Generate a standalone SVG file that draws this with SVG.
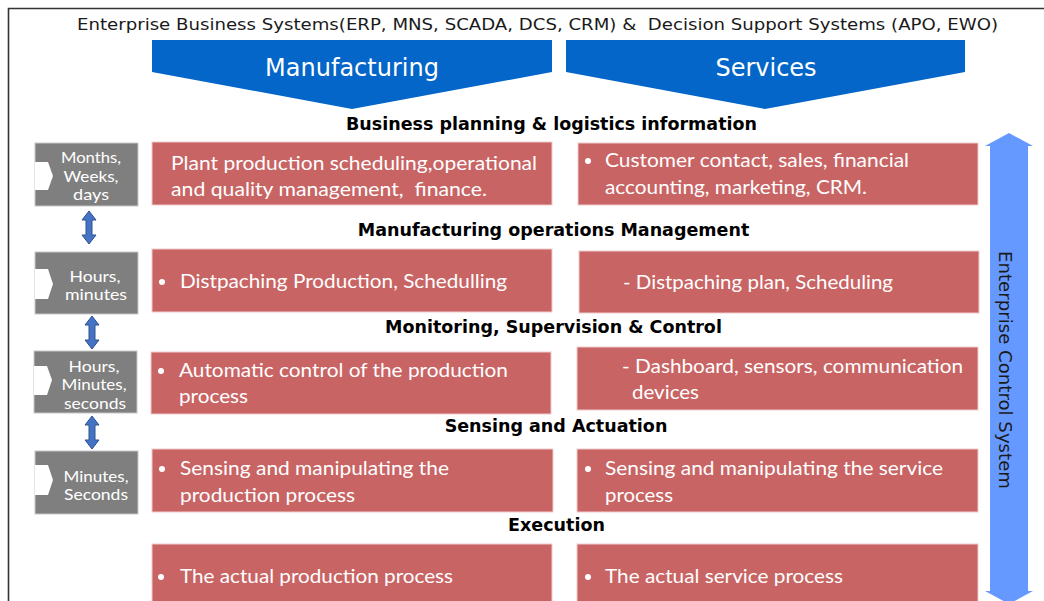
<svg xmlns="http://www.w3.org/2000/svg" width="1044" height="601" viewBox="0 0 1044 601">
<style>
.title{font-family:"DejaVu Sans","Liberation Sans",sans-serif;font-size:16px;fill:#1a1a1a}
.chev{fill:#0466c8}
.chevt{font-family:"DejaVu Sans","Liberation Sans",sans-serif;font-size:24px;fill:#ffffff;text-anchor:middle}
.head{font-family:"DejaVu Sans","Liberation Sans",sans-serif;font-weight:bold;font-size:17.5px;fill:#000;text-anchor:middle}
.gray{fill:#7f7f7f;stroke:#c8c8c8;stroke-width:1}
.notch{fill:#ffffff}
.gt{font-family:Lato,"Open Sans",sans-serif;font-size:15px;fill:#ffffff;text-anchor:middle}
.red{fill:#c96464;stroke:#f0caca;stroke-width:1}
.rt{font-family:Lato,"Open Sans",sans-serif;font-size:20px;fill:#ffffff}
.dot{fill:#ffffff}
.sarrow{fill:#4472c4;stroke:#2f528f;stroke-width:1}
.barrow{fill:#6699ff}
.vt{font-family:"DejaVu Sans","Liberation Sans",sans-serif;font-size:17.5px;fill:#1a1a1a;text-anchor:middle}
</style>
<rect x="0" y="0" width="1044" height="601" fill="#ffffff"/>
<path d="M8.5,601 L8.5,8.5 L1044,8.5" fill="none" stroke="#333333" stroke-width="1.6"/>

<text class="title" x="77" y="30" textLength="921" lengthAdjust="spacingAndGlyphs" xml:space="preserve">Enterprise Business Systems(ERP, MNS, SCADA, DCS, CRM) &amp;  Decision Support Systems (APO, EWO)</text>

<g id="manufacturing">
<polygon class="chev" points="152,40 552,40 552,72 352,109 152,72"/>
<text class="chevt" x="352" y="76">Manufacturing</text>
</g>
<g id="services">
<polygon class="chev" points="566,40 965,40 965,72 765,109 566,72"/>
<text class="chevt" x="766" y="76">Services</text>
</g>

<g id="headings">
<text class="head" x="551.5" y="130">Business planning &amp; logistics information</text>
<text class="head" x="553.5" y="236">Manufacturing operations Management</text>
<text class="head" x="553.5" y="333">Monitoring, Supervision &amp; Control</text>
<text class="head" x="556" y="432">Sensing and Actuation</text>
<text class="head" x="556.5" y="531">Execution</text>
</g>

<g id="time1">
<rect class="gray" x="35" y="143" width="103" height="63"/>
<polygon class="notch" points="35,162 48,162 53,176 48,190 35,190"/>
<text class="gt" x="91" y="163" textLength="60" lengthAdjust="spacingAndGlyphs">Months,</text>
<text class="gt" x="91" y="181.5" textLength="55" lengthAdjust="spacingAndGlyphs">Weeks,</text>
<text class="gt" x="91" y="200" textLength="36" lengthAdjust="spacingAndGlyphs">days</text>
</g>
<g id="time2">
<rect class="gray" x="35" y="252" width="103" height="62"/>
<polygon class="notch" points="35,269 48,269 53,284 48,299 35,299"/>
<text class="gt" x="95" y="281.5" textLength="51" lengthAdjust="spacingAndGlyphs">Hours,</text>
<text class="gt" x="96" y="300" textLength="62" lengthAdjust="spacingAndGlyphs">minutes</text>
</g>
<g id="time3">
<rect class="gray" x="34" y="351" width="103" height="62"/>
<polygon class="notch" points="34,366 47,366 52,380 47,395 34,395"/>
<text class="gt" x="94" y="371.5" textLength="51" lengthAdjust="spacingAndGlyphs">Hours,</text>
<text class="gt" x="94" y="390" textLength="65" lengthAdjust="spacingAndGlyphs">Minutes,</text>
<text class="gt" x="95" y="408.5" textLength="62" lengthAdjust="spacingAndGlyphs">seconds</text>
</g>
<g id="time4">
<rect class="gray" x="35" y="451" width="103" height="63"/>
<polygon class="notch" points="35,465 48,465 53,480 48,495 35,495"/>
<text class="gt" x="96" y="481.5" textLength="65" lengthAdjust="spacingAndGlyphs">Minutes,</text>
<text class="gt" x="96" y="500" textLength="64" lengthAdjust="spacingAndGlyphs">Seconds</text>
</g>

<g id="connectors">
<path class="sarrow" d="M89,211 L96,220 L92,220 L92,235 L96,235 L89,244 L82,235 L86,235 L86,220 L82,220 Z"/>
<path class="sarrow" d="M92,316 L99,325 L95,325 L95,340 L99,340 L92,349 L85,340 L89,340 L89,325 L85,325 Z"/>
<path class="sarrow" d="M92,416 L99,425 L95,425 L95,440 L99,440 L92,449 L85,440 L89,440 L89,425 L85,425 Z"/>
<path class="barrow" d="M1009,133 L1033,146 L1028,146 L1028,591 L1033,591 L1009,604 L985,591 L990,591 L990,146 L985,146 Z"/>
</g>

<g id="ecs-label">
<text class="vt" transform="translate(999,370) rotate(90)" textLength="238" lengthAdjust="spacingAndGlyphs">Enterprise Control System</text>
</g>

<g id="m-planning">
<rect class="red" x="152" y="142" width="400" height="63"/>
<text class="rt" x="171" y="170" textLength="366" lengthAdjust="spacingAndGlyphs">Plant production scheduling,operational</text>
<text class="rt" x="171" y="196" textLength="316" lengthAdjust="spacingAndGlyphs" xml:space="preserve">and quality management,  finance.</text>
</g>
<g id="m-operations">
<rect class="red" x="152" y="249" width="400" height="63"/>
<circle class="dot" cx="162" cy="282" r="3"/>
<text class="rt" x="180" y="288" textLength="327" lengthAdjust="spacingAndGlyphs">Distpaching Production, Schedulling</text>
</g>
<g id="m-monitoring">
<rect class="red" x="151" y="352" width="400" height="62"/>
<circle class="dot" cx="161" cy="371" r="3"/>
<text class="rt" x="179" y="377" textLength="329" lengthAdjust="spacingAndGlyphs">Automatic control of the production</text>
<text class="rt" x="179" y="403" textLength="69" lengthAdjust="spacingAndGlyphs">process</text>
</g>
<g id="m-sensing">
<rect class="red" x="152" y="449" width="401" height="63"/>
<circle class="dot" cx="162" cy="469" r="3"/>
<text class="rt" x="180" y="475" textLength="269" lengthAdjust="spacingAndGlyphs">Sensing and manipulating the</text>
<text class="rt" x="180" y="502" textLength="175" lengthAdjust="spacingAndGlyphs">production process</text>
</g>
<g id="m-execution">
<rect class="red" x="152" y="544" width="400" height="70"/>
<circle class="dot" cx="161" cy="577" r="3"/>
<text class="rt" x="180" y="583" textLength="273" lengthAdjust="spacingAndGlyphs">The actual production process</text>
</g>

<g id="s-planning">
<rect class="red" x="578" y="143" width="400" height="62"/>
<circle class="dot" cx="588" cy="161" r="3"/>
<text class="rt" x="605" y="167" textLength="304" lengthAdjust="spacingAndGlyphs">Customer contact, sales, financial</text>
<text class="rt" x="605" y="194" textLength="262" lengthAdjust="spacingAndGlyphs">accounting, marketing, CRM.</text>
</g>
<g id="s-operations">
<rect class="red" x="579" y="251" width="400" height="62"/>
<text class="rt" x="623" y="289" textLength="270" lengthAdjust="spacingAndGlyphs">- Distpaching plan, Scheduling</text>
</g>
<g id="s-monitoring">
<rect class="red" x="577" y="347" width="401" height="63"/>
<text class="rt" x="622" y="373" textLength="341" lengthAdjust="spacingAndGlyphs">- Dashboard, sensors, communication</text>
<text class="rt" x="632" y="399" textLength="67" lengthAdjust="spacingAndGlyphs">devices</text>
</g>
<g id="s-sensing">
<rect class="red" x="577" y="449" width="401" height="63"/>
<circle class="dot" cx="588" cy="469" r="3"/>
<text class="rt" x="605" y="475" textLength="338" lengthAdjust="spacingAndGlyphs">Sensing and manipulating the service</text>
<text class="rt" x="605" y="502" textLength="68" lengthAdjust="spacingAndGlyphs">process</text>
</g>
<g id="s-execution">
<rect class="red" x="577" y="544" width="401" height="70"/>
<circle class="dot" cx="588" cy="577" r="3"/>
<text class="rt" x="605" y="583" textLength="238" lengthAdjust="spacingAndGlyphs">The actual service process</text>
</g>
</svg>
